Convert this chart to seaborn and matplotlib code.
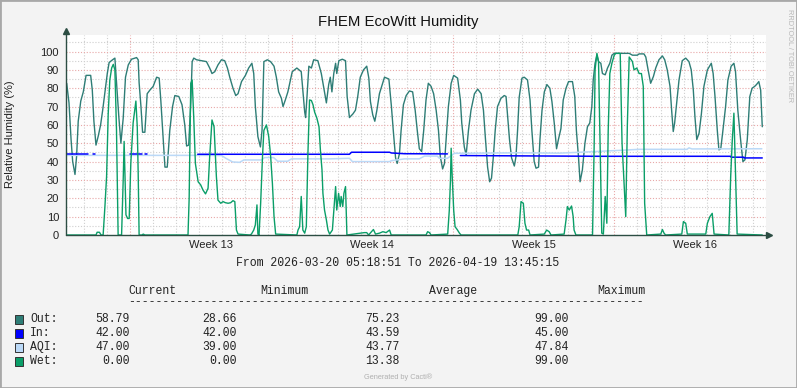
import numpy as np
import pandas as pd
import matplotlib
matplotlib.use("Agg")
import matplotlib.pyplot as plt
import seaborn as sns
from matplotlib.patches import Rectangle

# ── Données (jours depuis le début) ────────────────────────────────
out_day = [0.03, 0.13, 0.22, 0.29, 0.39, 0.46, 0.53, 0.64, 0.75, 0.87,
           1.07, 1.14, 1.21, 1.30, 1.40, 1.50, 1.59, 1.69, 1.79, 1.87,
           2.02, 2.12, 2.19, 2.29, 2.38, 2.48, 2.58, 2.70, 2.84, 3.06,
           3.13, 3.17, 3.25, 3.32, 3.42, 3.52, 3.64, 3.78, 3.93, 4.04,
           4.11, 4.19, 4.29, 4.39, 4.50, 4.62, 4.72, 4.89, 5.03, 5.15,
           5.23, 5.32, 5.41, 5.47, 5.54, 5.66, 5.87, 6.09, 6.23, 6.33,
           6.45, 6.59, 6.74, 6.88, 7.00, 7.10, 7.24, 7.36, 7.46, 7.61,
           7.78, 7.92, 8.06, 8.14, 8.21, 8.32, 8.43, 8.50, 8.58, 8.73,
           8.87, 9.02, 9.12, 9.22, 9.34, 9.41, 9.51, 9.62, 9.81, 10.01,
           10.20, 10.27, 10.35, 10.39, 10.45, 10.53, 10.64, 10.74, 10.92, 11.07,
           11.21, 11.29, 11.39, 11.46, 11.53, 11.61, 11.69, 11.74, 11.83, 11.98,
           12.12, 12.19, 12.29, 12.44, 12.55, 12.65, 12.76, 12.90, 13.04, 13.13,
           13.20, 13.30, 13.39, 13.48, 13.59, 13.71, 13.81, 14.00, 14.06, 14.11,
           14.20, 14.29, 14.36, 14.46, 14.53, 14.63, 14.75, 14.89, 15.03, 15.14,
           15.23, 15.32, 15.42, 15.51, 15.61, 15.71, 15.83, 15.94, 16.05, 16.15,
           16.23, 16.33, 16.41, 16.48, 16.58, 16.70, 16.81, 16.98, 17.10, 17.16,
           17.27, 17.35, 17.45, 17.56, 17.71, 17.85, 18.00, 18.10, 18.18, 18.28,
           18.37, 18.45, 18.53, 18.61, 18.71, 18.86, 19.00, 19.08, 19.15, 19.23,
           19.32, 19.44, 19.51, 19.58, 19.65, 19.77, 19.87, 20.01, 20.12, 20.20,
           20.30, 20.38, 20.49, 20.55, 20.64, 20.74, 20.85, 20.98, 21.07, 21.17,
           21.27, 21.35, 21.46, 21.56, 21.68, 21.79, 21.96, 22.06, 22.13, 22.22,
           22.29, 22.39, 22.50, 22.61, 22.71, 22.80, 22.86, 22.94, 23.02, 23.09,
           23.19, 23.26, 23.38, 23.48, 23.58, 23.67, 23.77, 23.98, 24.42, 24.56,
           24.77, 24.85, 25.06, 25.14, 25.24, 25.35, 25.47, 25.57, 25.71, 25.86,
           25.96, 26.07, 26.19, 26.26, 26.33, 26.39, 26.48, 26.58, 26.72, 26.87,
           27.01, 27.11, 27.20, 27.27, 27.35, 27.45, 27.55, 27.66, 27.81, 27.98,
           28.06, 28.14, 28.24, 28.31, 28.39, 28.47, 28.60, 28.70, 28.84, 28.96,
           29.03, 29.13, 29.25, 29.35, 29.44, 29.54, 29.65, 29.75, 29.86, 29.94,
           30.04, 30.12, 30.19]
out_val = [82.7, 72, 52, 40, 33, 43, 62, 73, 78, 87,
           87, 79, 62, 49, 54, 60, 68, 78, 88, 94,
           95.5, 96.4, 83, 64.5, 50, 63.6, 86, 92.7, 95.8, 96.7,
           95.5, 83, 70, 56, 56, 77, 79, 81, 86, 85.5,
           73.6, 57, 37, 37, 57, 70, 76, 75.5, 71, 60,
           48.5, 49, 72, 94.5, 96.4, 95.5, 95, 94.5, 91, 88,
           89, 92.7, 95.5, 95, 91, 86, 80, 76, 77, 83.6,
           87, 91, 93.6, 88, 70, 53.6, 48, 57, 94.5, 95.5,
           94.5, 92, 86, 78, 74.5, 70, 73.6, 78, 89, 91,
           89, 79, 67, 64, 75.5, 92, 91, 95.5, 95, 88,
           78, 72, 82, 86, 78, 88, 93.6, 88, 95, 95.8,
           95, 75.5, 64, 66, 68, 75.5, 86, 90, 92, 85.5,
           72.7, 65.5, 62, 68, 77, 82, 86, 85, 77, 70,
           55.5, 42, 39, 44.5, 57, 71, 76, 78.5, 78, 68,
           57, 47, 45.5, 57, 73.6, 82.7, 81, 77, 68, 57,
           42.7, 36, 39, 52, 70, 82.7, 87, 85.5, 73.6, 61,
           48, 43.6, 57, 68, 77, 79.5, 77, 68, 53.6, 37,
           29, 31, 42.7, 57, 70, 74.5, 76, 75.5, 64.5, 52,
           42, 37.6, 42.7, 57, 75, 85.5, 86, 84.5, 73.6, 57,
           40, 36.4, 37, 52, 68, 78, 82, 80, 72.7, 61,
           47, 52, 58, 73.6, 80, 83.6, 83.6, 75.5, 57, 42.7,
           29, 35.5, 50, 59, 61, 70, 84.5, 93.6, 98, 94.5,
           93.6, 88, 87.3, 91, 93.6, 98, 99, 99, 99, 98,
           98, 98.7, 98.7, 97, 90, 82.7, 86.4, 91, 95.5, 97.6,
           95.5, 90, 81, 68, 56.4, 61, 72, 84.5, 95, 96.4,
           94.5, 90, 79, 64.5, 52, 55.5, 66, 81, 90, 93.6,
           88, 75.5, 57, 46.4, 47, 55.5, 70, 84.5, 92, 93.6,
           89, 68, 52, 40, 41, 52, 75.5, 80, 81, 82,
           83.6, 79, 59]

in_day = [0.04, 0.95, 1.17, 1.26, 2.77, 3.29, 3.42, 3.51,
          5.71, 12.29, 12.38, 14.03, 14.11, 14.68, 16.54,
          17.10, 20.00, 23.12, 28.83, 28.84, 29.39, 29.40, 30.19]
in_val = [44, 44, 44, 44, 44, 44, 44, 44,
          44, 44, 45.1, 45.1, 44.7, 44.3, 44.2,
          43.3, 43.1, 42.9, 42.9, 42.4, 42.4, 42.0, 42.0]
in_seg = [0, 0, 1, 1, 2, 2, 3, 3,
          4, 4, 4, 4, 4, 4, 4,
          5, 5, 5, 5, 5, 5, 5, 5]

aqi_day = [0.04, 5.67, 6.23, 6.75, 6.93, 7.23, 7.53, 7.71, 8.48, 8.61,
           9.00, 9.18, 9.61, 9.78, 11.43, 12.29, 12.42, 14.03, 14.11, 14.68,
           15.32, 15.54, 16.10, 16.19, 16.54, 16.84, 19.65, 21.39, 22.99, 24.42,
           24.85, 26.93, 27.01, 27.14, 30.17]
aqi_val = [43.4, 43.4, 43.4, 43.3, 41.8, 39.8, 39.6, 40.9, 40.9, 42.2,
           42.2, 40.2, 40.2, 41.5, 41.5, 41.8, 40.0, 40.0, 40.5, 41.5,
           41.5, 43.0, 43.0, 41.8, 41.8, 44.5, 44.8, 44.6, 45.5, 46.4,
           46.7, 46.7, 47.5, 46.9, 47.0]

wet_day = [0.04, 1.30, 1.35, 1.45, 1.52, 1.61, 1.69, 1.76, 1.83, 1.90,
           1.98, 2.05, 2.12, 2.19, 2.26, 2.41, 2.48, 2.52, 2.60, 2.67,
           2.74, 2.81, 2.91, 3.03, 3.09, 3.13, 3.17, 3.29, 3.35, 3.42,
           5.29, 5.34, 5.41, 5.47, 5.54, 5.61, 5.73, 5.84, 5.94, 6.05,
           6.16, 6.23, 6.33, 6.42, 6.52, 6.59, 6.71, 6.81, 6.91, 7.03,
           7.14, 7.24, 7.32, 7.39, 7.46, 7.97, 8.04, 8.14, 8.21, 8.28,
           8.32, 8.37, 8.44, 8.52, 8.58, 8.69, 8.79, 8.87, 8.95, 9.02,
           9.09, 10.01, 10.06, 10.13, 10.20, 10.27, 10.35, 10.42, 10.49, 10.56,
           10.64, 10.71, 10.78, 10.88, 10.97, 11.03, 11.10, 11.14, 11.21, 11.29,
           11.36, 11.43, 11.55, 11.61, 11.69, 11.74, 11.82, 11.89, 11.93, 12.00,
           12.05, 12.12, 12.18, 12.94, 13.04, 13.12, 13.33, 13.42, 13.59, 13.74,
           13.88, 14.03, 14.10, 15.61, 15.68, 15.76, 15.83, 16.55, 16.62, 16.67,
           16.70, 16.74, 16.81, 16.87, 16.96, 17.06, 17.13, 19.59, 19.65, 19.73,
           19.83, 19.90, 19.97, 20.06, 20.12, 20.74, 20.84, 20.95, 21.03, 21.60,
           21.68, 21.74, 21.82, 21.92, 21.99, 22.03, 22.11, 22.83, 22.90, 22.94,
           23.02, 23.09, 23.16, 23.23, 23.30, 23.38, 23.45, 23.51, 23.58, 23.67,
           23.77, 23.84, 24.03, 24.11, 24.27, 24.34, 24.42, 24.56, 24.63, 24.75,
           24.85, 24.95, 25.03, 25.09, 25.18, 25.79, 25.86, 25.93, 26.00, 26.70,
           26.77, 26.87, 26.94, 27.74, 27.81, 27.92, 28.02, 28.10, 28.74, 28.82,
           28.89, 28.96, 29.03, 29.10, 30.19]
wet_val = [0, 0, 1.5, 1.5, 0, 0, 16, 32, 66, 84.5,
           91, 93, 90, 57, 0, 0, 30, 51, 11, 9,
           9, 39, 61, 73, 59, 33.6, 0, 0, 0.5, 0,
           0, 20, 82.7, 84.5, 63.6, 39, 29, 27.3, 24.5, 22.4,
           25.5, 42.7, 62.7, 59, 32, 19, 17.3, 18.2, 17.6, 17.3,
           17.6, 18.7, 18.2, 2.7, 0.5, 0, 0.5, 2.7, 5.5, 16.4,
           0.5, 0, 17.3, 42.7, 57, 60, 53.6, 43.6, 28, 10,
           0.5, 0, 2.7, 4.5, 21, 2.7, 1, 4.5, 44.5, 73.6,
           73.3, 71, 67, 63.6, 59, 46.4, 35.5, 22.7, 13.6, 8.2,
           2.7, 0.5, 2.7, 12.7, 26.4, 13.6, 22.7, 15.5, 21, 15.5,
           22.7, 26.4, 0, 1.3, 1.3, 0, 3, 0.5, 1, 1.8,
           1.3, 2.7, 0, 0, 1.8, 1.3, 0, 0.5, 13.6, 30,
           47.3, 33.6, 13.6, 4.5, 3, 1, 0, 0, 4.5, 18.2,
           17.3, 6.4, 2.7, 2.7, 0, 0.5, 2.7, 1.8, 0, 0.5,
           8.2, 15.5, 13.6, 15.8, 10, 2.7, 0, 0, 48, 90,
           99, 94.5, 48, 1, 0.5, 21, 6.4, 57, 88, 93.6,
           98, 99, 99, 50, 10, 60, 97, 94.5, 90, 91,
           88, 88, 81, 17.3, 0, 0.5, 3, 1, 0, 0.5,
           7.3, 6.4, 0.5, 0.5, 6.4, 10, 11.8, 0.5, 0, 31.8,
           51.8, 66.4, 33.6, 0.5, 0]

series_names = ["Out:", "In:", "AQI:", "Wet:"]
series_colors = ["#2E7D76", "#0000FF", "#BBD9F7", "#0A9E68"]
col_current = ["58.79", "42.00", "47.00", "0.00"]
col_minimum = ["28.66", "42.00", "39.00", "0.00"]
col_average = ["75.23", "43.59", "43.77", "13.38"]
col_maximum = ["99.00", "45.00", "47.84", "99.00"]
week_labels = ["Week 13", "Week 14", "Week 15", "Week 16"]

# ── Échelle de temps ───────────────────────────────────────────────
start = pd.Timestamp("2026-03-20 05:18:51")
end = pd.Timestamp("2026-04-19 13:45:15")
span = (end - start).total_seconds() / 86400
mondays = pd.date_range("2026-03-23", periods=4, freq="7D")
midnights = pd.date_range("2026-03-21", "2026-04-19", freq="D")
to_day = lambda ts: (ts - start).total_seconds() / 86400

# ── Figure ─────────────────────────────────────────────────────────
W, H = 797, 388
sns.set_style("white")
plt.rcParams["font.family"] = ["Liberation Sans", "DejaVu Sans"]
bg = "#F3F3F3"
axis_c = "#2C4D43"

fig = plt.figure(figsize=(W / 100, H / 100), dpi=100, facecolor=bg)
ax = fig.add_axes([66 / W, 1 - 235 / H, 700 / W, 200 / H])
ax.set_facecolor("white")
ax.set_xlim(0, span)
ax.set_ylim(0, 109)
for s in ax.spines.values():
    s.set_visible(False)

# grilles
dot = (0, (1, 1.6))
for v in range(5, 110, 10):
    ax.axhline(v, color="#cfcfcf", lw=0.8, ls=dot, zorder=0)
for d in midnights:
    if d not in mondays:
        ax.axvline(to_day(d), color="#cfcfcf", lw=0.8, ls=dot, zorder=0)
for v in range(10, 110, 10):
    ax.axhline(v, color="#e8a8a8", lw=0.8, ls=dot, zorder=0)
for d in mondays:
    ax.axvline(to_day(d), color="#e8a8a8", lw=0.8, ls=dot, zorder=0)

# séries
sns.lineplot(x=out_day, y=out_val, ax=ax, color=series_colors[0], lw=1.0,
             estimator=None, sort=False, zorder=3)
sns.lineplot(x=aqi_day, y=aqi_val, ax=ax, color=series_colors[2], lw=1.1,
             estimator=None, sort=False, zorder=4)
df_in = pd.DataFrame({"d": in_day, "v": in_val, "seg": in_seg})
sns.lineplot(data=df_in, x="d", y="v", units="seg", ax=ax, color=series_colors[1],
             lw=1.1, estimator=None, sort=False, zorder=4.5)
sns.lineplot(x=wet_day, y=wet_val, ax=ax, color=series_colors[3], lw=1.0,
             estimator=None, sort=False, zorder=5)

# axes avec flèches
ax.plot([0, 0], [0, 1.025], transform=ax.transAxes, color=axis_c, lw=1, clip_on=False, zorder=6)
ax.plot([0, 1.005], [0, 0], transform=ax.transAxes, color=axis_c, lw=1, clip_on=False, zorder=6)
ax.plot([0], [1.022], marker="^", ms=4, color=axis_c, transform=ax.transAxes, clip_on=False, zorder=6)
ax.plot([1.004], [0], marker=">", ms=4, color=axis_c, transform=ax.transAxes, clip_on=False, zorder=6)

ax.set_yticks(range(0, 101, 10))
ax.set_xticks([to_day(m) + 3.5 for m in mondays])
ax.set_xticklabels(week_labels)
ax.tick_params(axis="y", length=0, pad=5, labelsize=8, labelcolor="#222222")
ax.tick_params(axis="x", length=0, pad=3.5, labelsize=8, labelcolor="#222222")
ax.set_xlabel("")
ax.set_ylabel("")


def ftext(x, y, s, **kw):
    fig.text(x / W, 1 - y / H, s, **kw)


ftext(398, 22, "FHEM EcoWitt Humidity", ha="center", va="center", size=10.7, color="#111111")
ftext(10, 134, "Relative Humidity (%)", ha="center", va="center", rotation=90, size=8, color="#222222")
ftext(789, 56, "RRDTOOL / TOBI OETIKER", ha="center", va="center", rotation=270, size=5.3, color="#b8b8b8")
ftext(398, 377, "Generated by Cacti\u00ae", ha="center", va="center", size=5.3, color="#b0b0b0")

mono = dict(family="Liberation Mono", size=8.3, color="#222222", va="center")
ftext(398, 263, "From 2026-03-20 05:18:51 To 2026-04-19 13:45:15", ha="center", **mono)
for x, h in zip([128, 260, 429, 597], ["Current", "Minimum", "Average", "Maximum"]):
    ftext(x, 291, h, ha="left", **mono)
ftext(128, 302, "-" * 75, ha="left", **mono)

rows_y = [319, 333, 347, 361]
for i, y in enumerate(rows_y):
    fig.patches.append(Rectangle((15 / W, 1 - (y + 4.5) / H), 8 / W, 9 / H,
                                 transform=fig.transFigure, facecolor=series_colors[i],
                                 edgecolor="#333333", lw=0.7))
    ftext(30, y, series_names[i], ha="left", **mono)
    for x, col in zip([129.5, 237, 400, 569], [col_current, col_minimum, col_average, col_maximum]):
        ftext(x, y, col[i], ha="right", **mono)

fig.patches.append(Rectangle((0, 0), 1, 1, transform=fig.transFigure, fill=False,
                             edgecolor="#a8a8a8", lw=2))

fig.savefig("out.png", dpi=100, facecolor=bg)
